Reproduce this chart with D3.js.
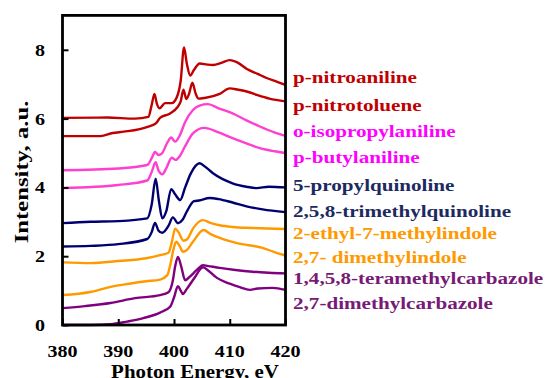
<!DOCTYPE html>
<html>
<head>
<meta charset="utf-8">
<script src="https://cdn.jsdelivr.net/npm/d3@7"></script>
<style>
  body { margin: 0; background: #fff; }
  svg text { font-family: "Liberation Serif", "Times New Roman", serif; font-weight: bold; }
</style>
</head>
<body>
<div id="chart"></div>
<script>
// spectra, [photon energy eV, intensity a.u.]
const pNitroaniline = [[380, 6.02], [388, 6.03], [393, 6.0], [395.4, 6.05], [396, 6.4], [396.5, 6.72], [396.9, 6.45], [397.4, 6.3],
  [398.4, 6.45], [399.6, 6.45], [400.5, 6.62], [401.2, 7.1], [401.8, 8.07], [402.3, 7.6], [402.9, 7.25], [403.6, 7.42],
  [404.6, 7.6], [406, 7.57], [407, 7.56], [408.5, 7.62], [410, 7.7], [411.5, 7.62], [413, 7.45], [415, 7.3], [416.6, 7.18],
  [418.5, 7.07], [420, 6.98]];
const pNitrotoluene = [[380, 5.49], [386.8, 5.49], [389, 5.58], [391, 5.62], [395.4, 5.77], [396.8, 5.87], [397.5, 6.02],
  [399.3, 6.15], [400.6, 6.33], [401.2, 6.5], [401.7, 6.84], [402.2, 6.57], [402.7, 6.72], [403.3, 7.04], [403.9, 6.72],
  [404.4, 6.58], [405.5, 6.6], [408.2, 6.72], [410, 6.88], [411.5, 6.84], [413.2, 6.78], [415, 6.68], [417.1, 6.58], [420, 6.5]];
const oIsopropylaniline = [[380, 4.5], [390, 4.55], [395.2, 4.65], [396, 4.85], [396.6, 5.03], [397.2, 4.94], [397.8, 4.98],
  [398.8, 5.3], [399.5, 5.45], [400.2, 5.33], [401, 5.5], [402, 5.9], [403.4, 6.25], [404.6, 6.38], [406.1, 6.42], [408, 6.3],
  [410.5, 6.15], [413, 5.95], [415.4, 5.77], [418, 5.6], [420, 5.5]];
const pButylaniline = [[380, 3.98], [390, 4.07], [395.2, 4.2], [396, 4.45], [396.7, 4.73], [397.2, 4.5], [397.9, 4.38],
  [398.6, 4.55], [399.6, 4.86], [400.3, 4.8], [401, 4.9], [402, 5.2], [403.4, 5.57], [405.4, 5.73], [408, 5.6], [410.5, 5.43],
  [413, 5.28], [415.4, 5.14], [418, 5.05], [420, 5.0]];
const propylquinoline = [[380, 2.96], [385, 3.0], [390, 3.02], [395.2, 3.1], [396, 3.5], [396.7, 4.25], [397.3, 3.6],
  [397.9, 3.1], [398.6, 3.3], [399.5, 3.95], [400.2, 3.8], [401.1, 3.63], [402, 4.0], [403, 4.4], [404.6, 4.7], [405.6, 4.6],
  [407, 4.41], [410.5, 4.12], [413, 4.02], [414.8, 3.98], [417, 4.02], [420, 4.0]];
const trimethylquinoline = [[380, 2.28], [385, 2.3], [390, 2.35], [395.2, 2.5], [396, 2.7], [396.6, 2.97], [397.2, 2.75],
  [397.9, 2.68], [399, 2.88], [399.8, 3.13], [400.7, 2.96], [401.5, 3.05], [402.3, 3.3], [403.6, 3.6], [404.5, 3.62],
  [406.4, 3.69], [408, 3.66], [410.5, 3.56], [413, 3.45], [415.9, 3.36], [420, 3.28]];
const ethylMethylindole = [[380, 1.82], [385, 1.8], [390, 1.86], [395, 1.94], [397.5, 2.03], [399, 2.1], [399.6, 2.4],
  [400.2, 2.8], [400.8, 2.7], [401.7, 2.45], [402.4, 2.5], [403.4, 2.8], [405.2, 3.05], [406.5, 2.97], [408.2, 2.9],
  [410.5, 2.85], [414, 2.82], [420, 2.79]];
const dimethylindole = [[380, 0.87], [385, 0.96], [388.6, 1.11], [392, 1.2], [395, 1.27], [397.5, 1.32], [398.8, 1.45],
  [399.4, 1.8], [399.9, 2.2], [400.4, 2.42], [401, 2.3], [401.6, 2.13], [402.3, 2.18], [403.4, 2.42], [405.3, 2.76],
  [406.5, 2.65], [408.2, 2.53], [411.3, 2.38], [415.9, 2.24], [418, 2.12], [420, 2.02]];
const tetramethylcarbazole = [[380, 0.49], [384, 0.55], [388.6, 0.64], [393, 0.78], [397.5, 0.87], [399, 0.95],
  [399.8, 1.3], [400.2, 1.7], [400.7, 1.98], [401.3, 1.7], [402, 1.3], [402.8, 1.4], [404.1, 1.6], [405.2, 1.74],
  [406, 1.72], [408.2, 1.66], [411, 1.6], [414.1, 1.55], [417, 1.52], [420, 1.5]];
const dimethylcarbazole = [[380, 0.0], [385, 0.0], [388.6, 0.02], [391.6, 0.1], [394.5, 0.2], [397.5, 0.36], [399.3, 0.53],
  [400, 0.8], [400.7, 1.13], [401.2, 1.0], [401.6, 0.9], [402.3, 1.05], [403.6, 1.35], [405.2, 1.68], [406, 1.6],
  [407.7, 1.37], [410, 1.2], [411.8, 1.1], [413.6, 1.02], [415, 1.06], [417.7, 1.08], [420, 1.02]];

const names = ["p-nitroaniline", "p-nitrotoluene", "o-isopropylaniline", "p-butylaniline", "5-propylquinoline",
  "2,5,8-trimethylquinoline", "2-ethyl-7-methylindole", "2,7- dimethylindole", "1,4,5,8-teramethylcarbazole",
  "2,7-dimethylcarbazole"];
const spectra = [pNitroaniline, pNitrotoluene, oIsopropylaniline, pButylaniline, propylquinoline, trimethylquinoline,
  ethylMethylindole, dimethylindole, tetramethylcarbazole, dimethylcarbazole];
const xTicks = [380, 390, 400, 410, 420];
const yTicks = [0, 2, 4, 6, 8];

const lineColors = ["#c00000", "#c00000", "#ff3fcf", "#ff3fcf", "#000070", "#000070", "#ff9900", "#ff9900", "#800080", "#800080"];
const textColors = ["#c00000", "#c00000", "#ff00ff", "#ff00ff", "#1c2a60", "#1c2a60", "#ff9900", "#ff9900", "#761a76", "#761a76"];
// label baselines on the right, px
const labelY = [83, 111, 137, 163, 191, 217, 239, 263, 284, 309];

const width = 548, height = 378;
const plotLeft = 62.5, plotRight = 285.5, plotTop = 15.4, plotBottom = 325;

const svg = d3.select("#chart").append("svg")
  .attr("width", width)
  .attr("height", height);

const x = d3.scaleLinear().domain([380, 420]).range([plotLeft, plotRight]);
const y = d3.scaleLinear().domain([0, 9]).range([plotBottom, plotTop]);

// curves
const line = d3.line()
  .x(d => x(d[0]))
  .y(d => y(d[1]))
  .curve(d3.curveMonotoneX);

svg.append("g")
  .selectAll("path")
  .data(spectra)
  .join("path")
  .attr("d", line)
  .attr("fill", "none")
  .attr("stroke", (d, i) => lineColors[i])
  .attr("stroke-width", 2.4)
  .attr("stroke-linejoin", "round");

// inside ticks
svg.append("g")
  .attr("transform", `translate(0,${plotBottom})`)
  .call(d3.axisBottom(x).tickValues(xTicks).tickSize(-6).tickFormat(""))
  .call(g => g.select(".domain").remove())
  .call(g => g.selectAll("line").attr("stroke", "#000").attr("stroke-width", 2));
svg.append("g")
  .attr("transform", `translate(${plotLeft},0)`)
  .call(d3.axisLeft(y).tickValues(yTicks).tickSize(-6).tickFormat(""))
  .call(g => g.select(".domain").remove())
  .call(g => g.selectAll("line").attr("stroke", "#000").attr("stroke-width", 2));

// frame
svg.append("rect")
  .attr("x", plotLeft)
  .attr("y", plotTop)
  .attr("width", plotRight - plotLeft)
  .attr("height", plotBottom - plotTop)
  .attr("fill", "none")
  .attr("stroke", "#000")
  .attr("stroke-width", 2.8);

// tick labels
svg.append("g")
  .selectAll("text")
  .data(xTicks)
  .join("text")
  .attr("transform", d => `translate(${x(d)},357) scale(1.18,1)`)
  .attr("text-anchor", "middle")
  .attr("font-size", 17)
  .text(d => d);
svg.append("g")
  .selectAll("text")
  .data(yTicks)
  .join("text")
  .attr("transform", d => `translate(45,${y(d) + 6}) scale(1.18,1)`)
  .attr("text-anchor", "end")
  .attr("font-size", 17)
  .text(d => d);

// axis titles
svg.append("text")
  .attr("transform", "translate(195,378) scale(1.1,1)")
  .attr("text-anchor", "middle")
  .attr("font-size", 19)
  .text("Photon Energy, eV");
svg.append("text")
  .attr("transform", "translate(28,172) rotate(-90) scale(1.3,1)")
  .attr("text-anchor", "middle")
  .attr("font-size", 19)
  .text("Intensity, a.u.");

// series labels
svg.append("g")
  .selectAll("text")
  .data(names)
  .join("text")
  .attr("transform", (d, i) => `translate(293,${labelY[i]}) scale(1.32,1)`)
  .attr("font-size", 16)
  .attr("fill", (d, i) => textColors[i])
  .text(d => d);
</script>
</body>
</html>
